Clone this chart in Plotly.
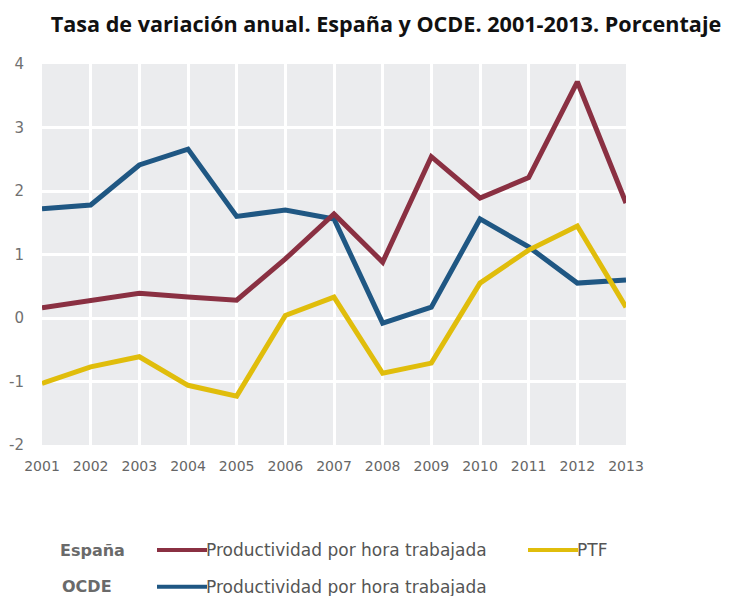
import plotly.graph_objects as go

years = list(range(2001, 2014))
year_labels = [str(y) for y in years]
espana_productividad = [0.16, 0.28, 0.39, 0.33, 0.28, 0.93, 1.64, 0.88, 2.54, 1.89, 2.21, 3.72, 1.81]
espana_ptf = [-1.03, -0.77, -0.61, -1.06, -1.23, 0.04, 0.33, -0.87, -0.71, 0.55, 1.07, 1.45, 0.17]
ocde_productividad = [1.72, 1.78, 2.41, 2.66, 1.60, 1.70, 1.56, -0.08, 0.17, 1.56, 1.12, 0.55, 0.60]
y_ticks = [-2, -1, 0, 1, 2, 3, 4]

RED = "#8a3042"
YELLOW = "#e0bd0b"
BLUE = "#1f5783"

fig = go.Figure()
fig.add_trace(go.Scatter(x=years, y=ocde_productividad, mode="lines",
                         line=dict(color=BLUE, width=5), name="OCDE Productividad"))
fig.add_trace(go.Scatter(x=years, y=espana_ptf, mode="lines",
                         line=dict(color=YELLOW, width=5), name="España PTF"))
fig.add_trace(go.Scatter(x=years, y=espana_productividad, mode="lines",
                         line=dict(color=RED, width=5), name="España Productividad"))

W, H = 716, 588  # page body has an 8px margin

fig.update_layout(
    width=W, height=H,
    margin=dict(l=34, r=98, t=56, b=151, autoexpand=False),
    paper_bgcolor="white",
    plot_bgcolor="#ebecee",
    showlegend=False,
    title=dict(text="<b>Tasa de variación anual. España y OCDE. 2001-2013. Porcentaje</b>",
               x=378 / W, xanchor="center", y=1 - 16 / H, yanchor="middle",
               font=dict(family="Open Sans", size=21.6, color="#111111")),
    xaxis=dict(range=[2001, 2013], tickmode="array", tickvals=years, ticktext=year_labels,
               showgrid=True, gridcolor="white", gridwidth=2.5, zeroline=False,
               ticks="outside", ticklen=8, tickcolor="rgba(0,0,0,0)", automargin=False,
               tickfont=dict(family="DejaVu Sans", size=14, color="#666666"), showline=False),
    yaxis=dict(range=[-2, 4], tickmode="array", tickvals=y_ticks,
               ticktext=[str(v) for v in y_ticks],
               showgrid=True, gridcolor="white", gridwidth=2.5, zeroline=False,
               ticks="outside", ticklen=14, tickcolor="rgba(0,0,0,0)", automargin=False,
               tickfont=dict(family="DejaVu Sans", size=15, color="#707070"), showline=False),
)

# custom legend
legend_font = dict(family="DejaVu Sans", size=17, color="#555555")
group_font = dict(family="DejaVu Sans", size=16, color="#6a6a6a")
row1 = -0.2756
row2 = -0.372

def px_x(p):
    return (p - 42) / 584.0

fig.add_annotation(x=px_x(58), y=row1, xref="paper", yref="paper", text="<b>España</b>",
                   showarrow=False, xanchor="left", yanchor="middle", font=group_font)
fig.add_annotation(x=px_x(60), y=row2, xref="paper", yref="paper", text="<b>OCDE</b>",
                   showarrow=False, xanchor="left", yanchor="middle", font=group_font)

for (x0, x1, yy, col, txt) in [
    (157, 207, row1, RED, "Productividad por hora trabajada"),
    (528, 578, row1, YELLOW, "PTF"),
    (157, 207, row2, BLUE, "Productividad por hora trabajada"),
]:
    fig.add_shape(type="line", xref="paper", yref="paper", x0=px_x(x0), x1=px_x(x1),
                  y0=yy, y1=yy, line=dict(color=col, width=4))
    fig.add_annotation(x=px_x(x1 - 3), y=yy, xref="paper", yref="paper", text=txt,
                       showarrow=False, xanchor="left", yanchor="middle", font=legend_font)

fig.write_html("out.html")
